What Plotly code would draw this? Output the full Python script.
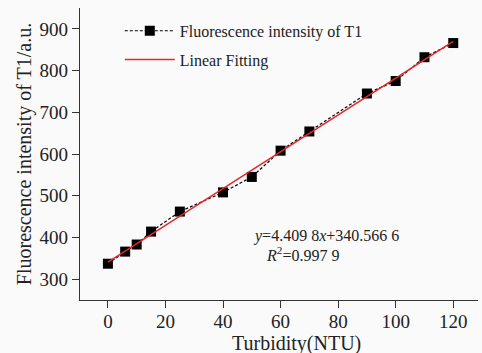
import plotly.graph_objects as go

turbidity = [0, 6, 10, 15, 25, 40, 50, 60, 70, 90, 100, 110, 120]
intensity = [337, 366, 383, 414, 462, 508, 545, 608, 654, 745, 775, 832, 866]
slope = 4.4098
intercept = 340.5666
fit_x = [0, 120]
fit_y = [intercept + slope * v for v in fit_x]

font = "Liberation Serif, Times New Roman, serif"
fig = go.Figure()
fig.add_trace(go.Scatter(x=turbidity, y=intensity, mode="lines+markers",
                         name="Fluorescence intensity of T1", legendgroup="a",
                         line=dict(color="black", width=1.2, dash="3px,2px"),
                         marker=dict(symbol="square", size=10, color="black")))
fig.add_trace(go.Scatter(x=fit_x, y=fit_y, mode="lines", name="Linear Fitting", legendgroup="b",
                         line=dict(color="#e8262b", width=1.5)))

fig.add_annotation(x=0.617, y=0.219, xref="paper", yref="paper", showarrow=False,
                   xanchor="center", yanchor="middle",
                   text="<i>y</i>=4.409 8<i>x</i>+340.566 6", font=dict(size=16, color="#222", family=font))
fig.add_annotation(x=0.462, y=0.158, xref="paper", yref="paper", showarrow=False,
                   xanchor="left", yanchor="middle",
                   text="<i>R</i><sup>2</sup>=0.997 9", font=dict(size=16, color="#222", family=font))
fig.add_annotation(x=0.543, y=-0.15, xref="paper", yref="paper", showarrow=False,
                   xanchor="center", yanchor="middle",
                   text="Turbidity(NTU)", font=dict(size=20, color="#222", family=font))

fig.update_layout(
    width=482, height=353,
    margin=dict(l=80, r=4, t=8, b=53),
    paper_bgcolor="#fafafa", plot_bgcolor="#fafafa",
    font=dict(family=font, size=19, color="#222"),
    showlegend=True,
    legend=dict(x=0.1, y=0.98, xanchor="left", yanchor="top", bgcolor="rgba(0,0,0,0)",
                font=dict(size=16, family=font), itemwidth=50, tracegroupgap=5,
                traceorder="grouped"),
    xaxis=dict(range=[-9.7, 128.6], tickvals=[0, 20, 40, 60, 80, 100, 120], automargin=False,
               showgrid=False, zeroline=False, showline=True, linecolor="#333", linewidth=1.2,
               ticks="outside", ticklen=7, tickcolor="#333", tickfont=dict(size=19),
               ticklabelstandoff=-3),
    yaxis=dict(range=[250, 950], tickvals=[300, 400, 500, 600, 700, 800, 900], automargin=False,
               showgrid=False, zeroline=False, showline=True, linecolor="#333", linewidth=1.2,
               ticks="outside", ticklen=7, tickcolor="#333", tickfont=dict(size=19),
               title=dict(text="Fluorescence intensity of T1/a.u.", standoff=2, font=dict(size=20))),
)
fig.write_html("out.html")
